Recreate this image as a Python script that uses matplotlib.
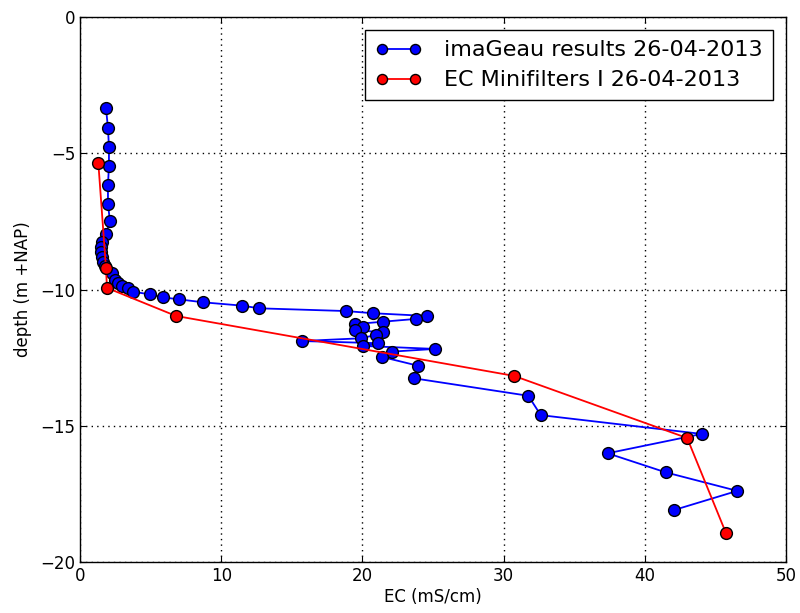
import numpy as np
import matplotlib
matplotlib.use("Agg")
import matplotlib.pyplot as plt

# imaGeau EC profile (mS/cm) vs depth (m +NAP)
imageau_ec = [1.84, 1.98, 2.05, 2.05, 1.98, 1.98, 2.12, 1.84,
              1.53, 1.49, 1.49, 1.53, 1.6, 1.77,
              2.25, 2.48, 2.71, 3.0, 3.42, 3.77, 4.96, 5.9, 7.01, 8.73,
              11.45, 12.7, 18.84, 20.73, 24.55, 23.77, 21.48, 19.48,
              20.02, 19.48, 21.48, 20.94, 19.88, 15.7, 21.13, 20.02,
              25.14, 22.07, 21.36, 23.96, 23.67, 31.75, 32.63, 44.03,
              37.37, 41.48, 46.55, 42.09]
imageau_depth = [-3.34, -4.07, -4.77, -5.47, -6.17, -6.86, -7.49, -7.96,
                 -8.26, -8.44, -8.62, -8.8, -8.98, -9.14,
                 -9.38, -9.65, -9.77, -9.87, -9.96, -10.08, -10.18, -10.29, -10.36, -10.47,
                 -10.59, -10.69, -10.79, -10.87, -10.97, -11.08, -11.18, -11.27,
                 -11.36, -11.49, -11.57, -11.67, -11.79, -11.89, -11.97, -12.07,
                 -12.18, -12.28, -12.47, -12.8, -13.26, -13.9, -14.61, -15.3,
                 -16.01, -16.71, -17.39, -18.09]

# EC minifilters
mini_ec = [1.3, 1.84, 1.91, 6.8, 30.74, 43.0, 45.75]
mini_depth = [-5.37, -9.21, -9.94, -10.97, -13.17, -15.45, -18.94]

fig = plt.figure(figsize=(8, 6.13), dpi=100)
ax = fig.add_axes([0.1, 0.0832, 0.8825, 0.889])

ax.plot(imageau_ec, imageau_depth, 'b-o', lw=1.3, ms=8.5, mec='k', mew=1,
        label='imaGeau results 26-04-2013')
ax.plot(mini_ec, mini_depth, 'r-o', lw=1.3, ms=8.5, mec='k', mew=1,
        label='EC Minifilters I 26-04-2013')

ax.set_xlim(0, 50)
ax.set_ylim(-20, 0)
ax.set_xticks(np.arange(0, 51, 10))
ax.set_yticks(np.arange(-20, 1, 5))
ax.grid(True, color='k', linestyle=(0, (1, 3)), linewidth=1)
ax.tick_params(direction='in', top=True, right=True, labelsize=12, length=4)
for s in ax.spines.values():
    s.set_linewidth(1)
    s.set_color('k')
ax.set_xlabel('EC (mS/cm)', fontsize=12, labelpad=2)
ax.set_ylabel('depth (m +NAP)', fontsize=12, labelpad=6)

leg = ax.legend(loc='upper right', fontsize=16, numpoints=2, fancybox=False,
                framealpha=1, edgecolor='k', borderaxespad=0.6,
                handlelength=2.1, handletextpad=1.0, labelspacing=0.45,
                borderpad=0.45, markerscale=0.85)
leg.get_frame().set_linewidth(1)

fig.savefig('out.png', dpi=100)
